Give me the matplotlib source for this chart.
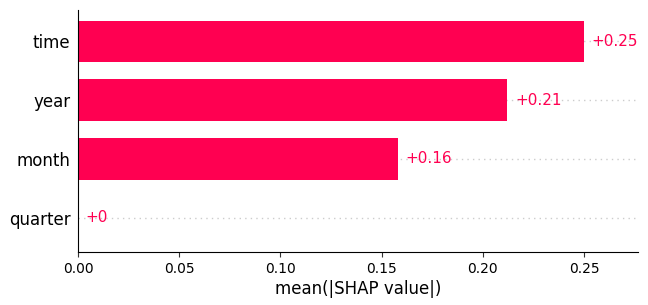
import matplotlib
matplotlib.use("Agg")
import matplotlib.pyplot as plt
import numpy as np

plt.rcParams["font.family"] = ["DejaVu Sans"]

# feature names and mean |SHAP| values (top to bottom)
features = ["time", "year", "month", "quarter"]
values = [0.250, 0.212, 0.158, 0.0]
value_labels = ["+0.25", "+0.21", "+0.16", "+0"]

red = "#ff0051"

fig = plt.figure(figsize=(6.48, 3.05), dpi=100)
ax = fig.add_axes([78 / 648, 1 - 252 / 305, 560 / 648, 242 / 305])

y_pos = np.arange(len(features))[::-1]

# dotted guide lines behind the bars
for y in y_pos:
    ax.axhline(y, color="#cccccc", lw=1, ls=(0, (1, 3)), zorder=-1)

ax.barh(y_pos, values, height=0.7, color=red, align="center")

xmax = 0.2767
for y, v, lab in zip(y_pos, values, value_labels):
    ax.text(v + xmax * 0.014, y, lab, ha="left", va="center",
            color=red, fontsize=11)

ax.set_xlim(0, xmax)
ax.set_ylim(-0.58, 3.53)
ax.set_yticks(y_pos)
ax.set_yticklabels(features, fontsize=12)
ax.tick_params(axis="y", length=0, pad=5.5)
ax.tick_params(axis="x", labelsize=10, color="#333333")
ax.set_xlabel("mean(|SHAP value|)", fontsize=12, labelpad=3)

ax.spines["top"].set_visible(False)
ax.spines["right"].set_visible(False)

plt.savefig("out.png", dpi=100)
